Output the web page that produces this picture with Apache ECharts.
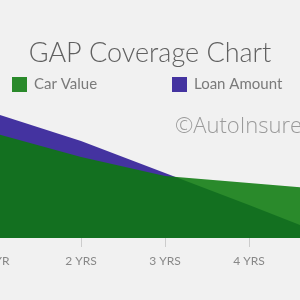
<!DOCTYPE html>
<html>
<head>
<meta charset="utf-8">
<script src="https://cdn.jsdelivr.net/npm/echarts@6/dist/echarts.min.js"></script>
<style>
html,body{margin:0;padding:0;background:#f1f1f1;}
#c{width:300px;height:300px;}
</style>
</head>
<body>
<div id="c"></div>
<script>
const categories = ['1 YR', '2 YRS', '3 YRS', '4 YRS', '5 YRS'];
const loanAmount = [24800, 19400, 13000, 6600, 0];
const carValue = [20800, 16200, 12400, 11000, 9600];

const chart = echarts.init(document.getElementById('c'));
chart.setOption({
  backgroundColor: '#f1f1f1',
  animation: false,
  title: {
    text: 'GAP Coverage Chart',
    left: 'center',
    top: 35,
    textStyle: { fontFamily: 'Lato', fontWeight: 300, fontSize: 27, color: '#606060' }
  },
  legend: [
    {
      data: ['Car Value'], left: 7, top: 72, itemWidth: 15, itemHeight: 15, itemGap: 5, icon: 'rect',
      textStyle: { fontFamily: 'Lato', fontSize: 15, color: '#7a7a7a', padding: [0,0,0,2] }
    },
    {
      data: ['Loan Amount'], left: 167, top: 72, itemWidth: 15, itemHeight: 15, itemGap: 5, icon: 'rect',
      textStyle: { fontFamily: 'Lato', fontSize: 15, color: '#7a7a7a', padding: [0,0,0,2] }
    }
  ],
  graphic: [{
    type: 'text', left: 175, top: 116, silent: true,
    style: { text: '©AutoInsureSavings.org', font: '300 22px "Open Sans"', fill: '#9a9a9a' }
  }],
  grid: { left: -3, right: -33, top: 38, bottom: 62, containLabel: false, outerBoundsMode: 'none' },
  xAxis: {
    type: 'category', data: categories, boundaryGap: false,
    axisLine: { show: false },
    axisTick: { show: true, length: 9, lineStyle: { color: '#cccccc' } },
    axisLabel: { interval: 0, fontFamily: 'Lato', fontSize: 12, color: '#888', margin: 17 }
  },
  yAxis: { type: 'value', min: 0, max: 40000, show: false, splitLine: { show: false } },
  series: [
    {
      name: 'Loan Amount', type: 'line', data: loanAmount, symbol: 'none',
      itemStyle: { color: '#4433a0' }, lineStyle: { width: 0 },
      areaStyle: { color: '#4433a0', opacity: 1 }
    },
    {
      name: 'Car Value', type: 'line', data: carValue, symbol: 'none',
      itemStyle: { color: '#2a8a2b' }, lineStyle: { width: 0 },
      areaStyle: { color: 'rgb(12,122,13)', opacity: 0.87 }
    }
  ]
});
</script>
</body>
</html>
